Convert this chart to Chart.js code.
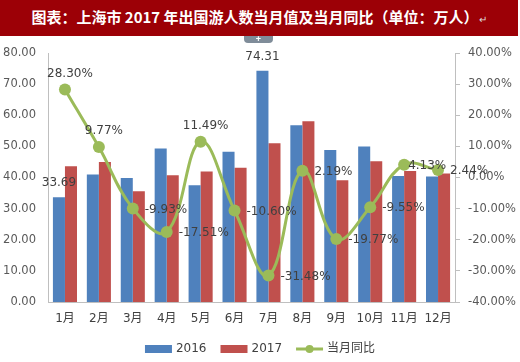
<!DOCTYPE html>
<html>
<head>
<meta charset="utf-8">
<script src="https://cdn.jsdelivr.net/npm/chart.js@4"></script>
<style>
html,body{margin:0;padding:0;background:#fff;}
#wrap{position:relative;width:520px;height:362px;overflow:hidden;}
#title{position:absolute;left:0;top:0;width:518px;height:36px;background:#9c0006;color:#fff;
font:bold 15px "Noto Sans CJK SC",sans-serif;line-height:34px;text-align:center;z-index:2;white-space:nowrap;}
#title .ret{font-weight:normal;font-size:10px;color:#ddd;}
#tab{position:absolute;left:244px;top:36px;width:29px;height:7px;background:#7f8c99;color:#fff;
font:bold 9px sans-serif;line-height:7px;text-align:center;z-index:2;border-radius:0 0 4px 4px;}
canvas{position:absolute;left:0;top:0;}
</style>
</head>
<body>
<div id="wrap">
<div id="title">图表：上海市 2017 年出国游人数当月值及当月同比（单位：万人）<span class="ret">↵</span></div>
<div id="tab">+</div>
<canvas id="c" width="520" height="362"></canvas>
</div>
<script>
const categories = ["1月","2月","3月","4月","5月","6月","7月","8月","9月","10月","11月","12月"];
const values2016 = [33.69, 41.0, 39.8, 49.3, 37.5, 48.3, 74.31, 56.8, 48.8, 50.0, 40.5, 40.3];
const values2017 = [43.6, 45.0, 35.6, 40.7, 41.9, 43.1, 51.0, 58.1, 39.1, 45.2, 42.1, 41.3];
const yoy = [28.30, 9.77, -9.93, -17.51, 11.49, -10.60, -31.48, 2.19, -19.77, -9.55, 4.13, 2.44];
const seriesNames = ["2016", "2017", "当月同比"];
// which 2016 bars carry a value label
const labelled2016 = [0, 6];
// placement of percentage labels: 'top' or 'right'
const yoyLabelPos = ["top","top","right","right","top","right","right","right","right","right","right","right"];

const FONT = '"DejaVu Sans", "Noto Sans CJK SC", sans-serif';
const BLUE = '#4f81bd', RED = '#c0504d', GREEN = '#9bbb59', TXT = '#404040', TICK = '#595959', AX = '#bfbfbf';

const labelPlugin = {
  id: 'labels',
  afterDatasetsDraw(chart) {
    const ctx = chart.ctx;
    ctx.save();
    ctx.font = '12px ' + FONT;
    ctx.fillStyle = TXT;
    ctx.textBaseline = 'middle';
    const m0 = chart.getDatasetMeta(0);
    labelled2016.forEach(i => {
      const el = m0.data[i];
      ctx.textAlign = 'center';
      ctx.fillText(values2016[i].toFixed(2), el.x, el.y - 14);
    });
    const m2 = chart.getDatasetMeta(2);
    m2.data.forEach((el, i) => {
      const t = yoy[i].toFixed(2) + '%';
      if (yoyLabelPos[i] === 'top') {
        ctx.textAlign = 'center';
        ctx.fillText(t, el.x + 5, el.y - 16);
      } else {
        ctx.textAlign = 'left';
        ctx.fillText(t, el.x + (i === 10 ? 4 : 12), el.y + 1);
      }
    });
    ctx.restore();
  }
};

const legendPlugin = {
  id: 'customLegend',
  afterDraw(chart) {
    const ctx = chart.ctx;
    ctx.save();
    ctx.font = '12px ' + FONT;
    ctx.textBaseline = 'middle';
    const boxW = 27, gap = 4, space = 14;
    const widths = seriesNames.map(n => boxW + gap + ctx.measureText(n).width);
    const total = widths.reduce((a, b) => a + b, 0) + space * (seriesNames.length - 1);
    let x = chart.width / 2 - total / 2;
    const y = 349;
    const colors = [BLUE, RED, GREEN];
    seriesNames.forEach((n, i) => {
      if (i < 2) {
        ctx.fillStyle = colors[i];
        ctx.fillRect(x, y - 4, boxW, 8);
      } else {
        ctx.strokeStyle = GREEN; ctx.lineWidth = 3;
        ctx.beginPath(); ctx.moveTo(x, y); ctx.lineTo(x + boxW, y); ctx.stroke();
        ctx.fillStyle = GREEN;
        ctx.beginPath(); ctx.arc(x + boxW / 2, y, 4, 0, Math.PI * 2); ctx.fill();
      }
      ctx.fillStyle = TXT;
      ctx.textAlign = 'left';
      ctx.fillText(n, x + boxW + gap, y);
      x += widths[i] + space;
    });
    ctx.restore();
  }
};

new Chart(document.getElementById('c'), {
  data: {
    labels: categories,
    datasets: [
      { type: 'bar', label: seriesNames[0], data: values2016, backgroundColor: BLUE, yAxisID: 'y', order: 2,
        categoryPercentage: 0.71, barPercentage: 1.0 },
      { type: 'bar', label: seriesNames[1], data: values2017, backgroundColor: RED, yAxisID: 'y', order: 2,
        categoryPercentage: 0.71, barPercentage: 1.0 },
      { type: 'line', label: seriesNames[2], data: yoy, borderColor: GREEN, backgroundColor: GREEN, yAxisID: 'y1',
        order: 0, borderWidth: 3, tension: 0.4, pointRadius: 6, pointHoverRadius: 6, pointBorderWidth: 0 }
    ]
  },
  options: {
    responsive: false,
    animation: false,
    events: [],
    layout: { padding: { top: 53, left: 0, right: 0, bottom: 0 } },
    plugins: { legend: { display: false }, tooltip: { enabled: false }, title: { display: false } },
    scales: {
      x: {
        grid: { display: false, drawTicks: false },
        border: { display: true, color: AX },
        ticks: { color: TXT, font: { size: 12, family: FONT }, padding: 10, maxRotation: 0 },
        afterFit(s) { s.height = 60; }
      },
      y: {
        position: 'left', min: 0, max: 80,
        grid: { display: false, drawTicks: false },
        border: { display: true, color: AX },
        ticks: { stepSize: 10, color: TICK, font: { size: 11.5, family: FONT }, padding: 12,
          callback: v => v.toFixed(2) },
        afterFit(s) { s.width = 48; }
      },
      y1: {
        position: 'right', min: -40, max: 40,
        grid: { display: true, drawOnChartArea: false, drawTicks: true, tickLength: 5, color: AX },
        border: { display: true, color: AX },
        ticks: { stepSize: 10, color: TICK, font: { size: 11.5, family: FONT }, padding: 8,
          callback: v => v.toFixed(2) + '%' },
        afterFit(s) { s.width = 65; }
      }
    }
  },
  plugins: [labelPlugin, legendPlugin]
});
</script>
</body>
</html>
